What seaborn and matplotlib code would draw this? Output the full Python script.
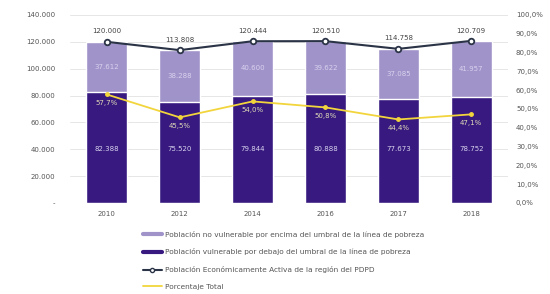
import matplotlib
matplotlib.use("Agg")
import matplotlib.pyplot as plt
import numpy as np
import pandas as pd
import seaborn as sns
from matplotlib.lines import Line2D
from matplotlib.ticker import FuncFormatter

years = ["2010", "2012", "2014", "2016", "2017", "2018"]
total = [120000, 113808, 120444, 120510, 114758, 120709]
below = [82388, 75520, 79844, 80888, 77673, 78752]
above = [t - b for t, b in zip(total, below)]
pct = [57.7, 45.5, 54.0, 50.8, 44.4, 47.1]

legend_labels = [
    "Población no vulnerable por encima del umbral de la línea de pobreza",
    "Población vulnerable por debajo del umbral de la línea de pobreza",
    "Población Económicamente Activa de la región del PDPD",
    "Porcentaje Total",
]

light = "#a093c9"
dark = "#37197f"
navy = "#2b3447"
yellow = "#f2d53c"

df = pd.DataFrame({"year": years, "total": total, "below": below})

sns.set_theme(style="white")
plt.rcParams["font.family"] = ["DejaVu Sans"]

fig = plt.figure(figsize=(5.5, 2.94), dpi=100)
ax = fig.add_axes([0.128, 0.31, 0.795, 0.639])

sns.barplot(data=df, x="year", y="total", color=light, width=0.56,
            saturation=1, ax=ax, zorder=2)
sns.barplot(data=df, x="year", y="below", color=dark, width=0.56,
            saturation=1, ax=ax, zorder=3)
x = np.arange(len(years))
ax.plot(x, total, color=navy, lw=1.5, marker="o", ms=4,
        mfc="white", mec=navy, mew=1.3, zorder=5)

for i in range(len(years)):
    ax.text(i, total[i] + 5500, f"{total[i]:,}".replace(",", "."),
            ha="center", va="bottom", fontsize=5, color="#444444")
    ax.text(i, below[i] + above[i] / 2, f"{above[i]:,}".replace(",", "."),
            ha="center", va="center", fontsize=5, color="#d8d2ee", zorder=6)
    ax.text(i, 40000, f"{below[i]:,}".replace(",", "."),
            ha="center", va="center", fontsize=5, color="#d8d2ee", zorder=6)

ax.set_ylim(0, 140000)
ax.set_yticks(np.arange(0, 140001, 20000))
ax.yaxis.set_major_formatter(FuncFormatter(
    lambda v, p: "-" if v == 0 else f"{int(v):,}".replace(",", ".")))
ax.set_xlim(-0.5, len(years) - 0.5)
ax.set(xlabel="", ylabel="")
ax.grid(axis="y", color="#e6e6e6", lw=0.7, zorder=0)
ax.set_axisbelow(True)
for s in ax.spines.values():
    s.set_visible(False)
ax.tick_params(axis="y", labelsize=5, colors="#555555", length=0, pad=11)
ax.tick_params(axis="x", labelsize=5, colors="#555555", length=0, pad=6)

ax2 = ax.twinx()
ax2.plot(x, pct, color=yellow, lw=1.3, marker="o", ms=2.5, zorder=6)
for i in range(len(years)):
    ax2.text(i, pct[i] - 3, f"{pct[i]:.1f}%".replace(".", ","),
             ha="center", va="top", fontsize=5, color="#e0dab8")
ax2.set_ylim(0, 100)
ax2.set_yticks(np.arange(0, 101, 10))
ax2.yaxis.set_major_formatter(FuncFormatter(
    lambda v, p: f"{v:.1f}%".replace(".", ",")))
for s in ax2.spines.values():
    s.set_visible(False)
ax2.tick_params(axis="y", labelsize=5, colors="#555555", length=0, pad=6)
ax2.grid(False)

handles = [
    Line2D([0], [0], color=light, lw=3),
    Line2D([0], [0], color=dark, lw=3),
    Line2D([0], [0], color=navy, lw=1.5, marker="o", ms=3, mfc="white"),
    Line2D([0], [0], color=yellow, lw=1.3),
]
fig.legend(handles, legend_labels, loc="upper left",
           bbox_to_anchor=(0.255, 0.225), frameon=False, fontsize=5.3,
           handlelength=2.5, labelspacing=1.45, handletextpad=0.4,
           borderaxespad=0, labelcolor="#555555")

fig.savefig("out.png", dpi=100)
